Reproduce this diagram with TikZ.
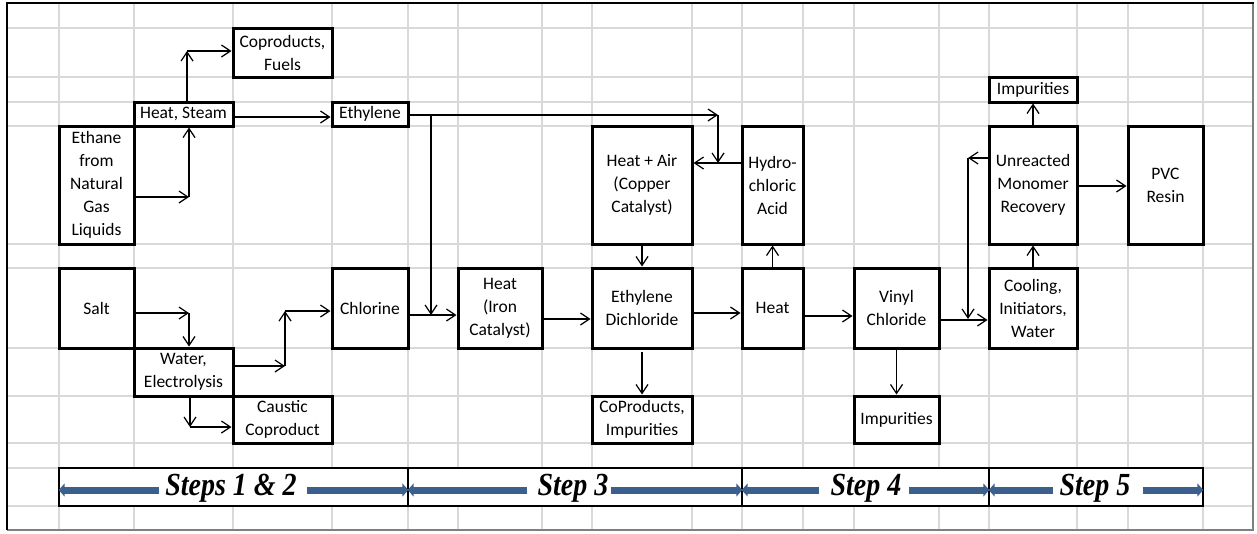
\documentclass[tikz,border=0pt]{standalone}
\usepackage{fontspec}
\setmainfont{Carlito}
\newfontfamily\stepfont{Liberation Serif}
\usetikzlibrary{arrows.meta}
\definecolor{stepblue}{RGB}{60,96,142}
\definecolor{gridgray}{RGB}{217,217,217}
\definecolor{framegray}{RGB}{128,128,128}
\tikzset{
  box/.style={draw, line width=3pt, fill=white, inner sep=0pt, align=center,
    font=\fontsize{17.5}{23}\selectfont},
  arr/.style={line width=1.2pt, -{Straight Barb[length=9pt,width=12pt]}},
  gridline/.style={gridgray, line width=1.4pt},
  stepbox/.style={draw, line width=2.6pt, fill=white, minimum height=38, inner sep=0pt},
  steptext/.style={inner sep=0pt, font=\stepfont\bfseries\itshape\fontsize{28}{30}\selectfont},
  bluearr/.style={stepblue, line width=7pt, -{Triangle[length=6pt,width=13pt]}},
}
\newcommand{\tallstep}[1]{\scalebox{1}[1.15]{#1}}
\begin{document}
\begin{tikzpicture}[x=1pt,y=-1pt]
\useasboundingbox (0,0) rectangle (1257,533);
% grid
\foreach \x in {59,134,233,332,408,458,542,592,692,742,803,854,939,989,1077,1128,1203}
  \draw[gridline] (\x,3) -- (\x,530);
\foreach \y in {28,77,102,126,244,268,348,396,443,468,506}
  \draw[gridline] (7,\y) -- (1253,\y);
% frame
\draw[framegray, line width=1.6pt] (7,530) -- (1253,530) -- (1253,3);
\draw[line width=2.6pt] (1254,3) -- (7,3) -- (7,530);

% boxes
\node[box, minimum width=99, minimum height=49] (coprod) at (282.5,52.5) {Coproducts,\\Fuels};
\node[box, minimum width=99, minimum height=24] (heatsteam) at (183.5,114) {Heat, Steam};
\node[box, minimum width=76, minimum height=24] (ethylene) at (370,114) {Ethylene};
\node[box, minimum width=75, minimum height=118] (ethane) at (96.5,185) {Ethane\\from\\Natural\\Gas\\Liquids};
\node[box, minimum width=100, minimum height=118] (heatair) at (642,185) {Heat + Air\\(Copper\\Catalyst)};
\node[box, minimum width=61, minimum height=118] (hcl) at (772.5,185) {Hydro-\\chloric\\Acid};
\node[box, minimum width=88, minimum height=118] (umr) at (1033,185) {Unreacted\\Monomer\\Recovery};
\node[box, minimum width=75, minimum height=118] (pvc) at (1165.5,185) {PVC\\Resin};
\node[box, minimum width=88, minimum height=25] (imptop) at (1033,89.5) {Impurities};
\node[box, minimum width=75, minimum height=80] (salt) at (96.5,308) {Salt};
\node[box, minimum width=76, minimum height=80] (chlorine) at (370,308) {Chlorine};
\node[box, minimum width=84, minimum height=80] (heatiron) at (500,308) {Heat\\(Iron\\Catalyst)};
\node[box, minimum width=100, minimum height=80] (edc) at (642,308) {Ethylene\\Dichloride};
\node[box, minimum width=61, minimum height=80] (heat) at (772.5,308) {Heat};
\node[box, minimum width=85, minimum height=80] (vinyl) at (896.5,308) {Vinyl\\Chloride};
\node[box, minimum width=88, minimum height=80] (cooling) at (1033,308) {Cooling,\\Initiators,\\Water};
\node[box, minimum width=99, minimum height=48] (water) at (183.5,372) {Water,\\Electrolysis};
\node[box, minimum width=99, minimum height=47] (caustic) at (282.5,419.5) {Caustic\\Coproduct};
\node[box, minimum width=100, minimum height=47] (coprodimp) at (642,419.5) {CoProducts,\\Impurities};
\node[box, minimum width=85, minimum height=47] (imp2) at (896.5,419.5) {Impurities};

% connector elbows
\coordinate (c1) at (189,197);
\coordinate (c2) at (187,51);
\coordinate (c3) at (250,117);
\coordinate (c4) at (718,115);
\coordinate (c5) at (718,163);
\coordinate (c6) at (431,115);
\coordinate (c7) at (431,315);
\coordinate (c8) at (968,158);
\coordinate (c9) at (968,319);
\coordinate (c10) at (189,313);
\coordinate (c11) at (285,366);
\coordinate (c12) at (285,311);
\coordinate (c13) at (190,427);
\coordinate (y319) at (560,319);
\coordinate (y313) at (720,313);
\coordinate (y316) at (830,316);
\coordinate (y320) at (960,320);
\coordinate (y186) at (1100,186);

% connectors
\draw[arr] (ethane.east |- c1) -- (c1);
\draw[arr] (c1) -- (c1 |- heatsteam.south);
\draw[arr] (c2 |- heatsteam.north) -- (c2);
\draw[arr] (c2) -- (c2 -| coprod.west);
\draw[arr] (heatsteam.east |- c3) -- (ethylene.west |- c3);
\draw[arr] (ethylene.east |- c4) -- (c4);
\draw[arr] (c4) -- (c5);
\draw[arr] (hcl.west |- c5) -- (heatair.east |- c5);
\draw[arr] (c6) -- (c7);
\draw[arr] (chlorine.east |- c7) -- (heatiron.west |- c7);
\draw[arr] (heatiron.east |- y319) -- (edc.west |- y319);
\draw[arr] (heatair.south) -- (edc.north);
\draw[arr] (edc.east |- y313) -- (heat.west |- y313);
\draw[arr] (heat.north) -- (hcl.south);
\draw[arr, shorten <=2pt] (edc.south) -- (coprodimp.north);
\draw[arr] (heat.east |- y316) -- (vinyl.west |- y316);
\draw[arr] (vinyl.south) -- (imp2.north);
\draw[arr] (vinyl.east |- y320) -- (cooling.west |- y320);
\draw[arr] (umr.west |- c8) -- (c8);
\draw[arr] (c8) -- (c9);
\draw[arr] (cooling.north) -- (umr.south);
\draw[arr] (umr.north) -- (imptop.south);
\draw[arr] (umr.east |- y186) -- (pvc.west |- y186);
\draw[arr] (salt.east |- c10) -- (c10);
\draw[arr] (c10) -- (c10 |- water.north);
\draw[arr] (water.east |- c11) -- (c11);
\draw[arr] (c11) -- (c12);
\draw[arr] (c12) -- (chlorine.west |- c12);
\draw[arr] (c13 |- water.south) -- (c13);
\draw[arr] (c13) -- (c13 -| caustic.west);

% steps
\node[stepbox, minimum width=349] (s12) at (233.5,487) {};
\node[stepbox, minimum width=334] (s3) at (575,487) {};
\node[stepbox, minimum width=247] (s4) at (865.5,487) {};
\node[stepbox, minimum width=214] (s5) at (1096,487) {};
\node[steptext] (t12) at (231,488) {\tallstep{Steps 1 \& 2}};
\node[steptext] (t3) at (573,488) {\tallstep{Step 3}};
\node[steptext] (t4) at (866,488) {\tallstep{Step 4}};
\node[steptext] (t5) at (1095,488) {\tallstep{Step 5}};
\foreach \s/\t/\gl/\gr in {s12/t12/6/10, s3/t3/10/2, s4/t4/11/7, s5/t5/6/12}{
  \draw[bluearr, shorten <=\gl pt] (\t.west |- 0,490) -- ([xshift=1pt]\s.west |- 0,490);
  \draw[bluearr, shorten <=\gr pt] (\t.east |- 0,490) -- ([xshift=-1pt]\s.east |- 0,490);
}
\end{tikzpicture}
\end{document}
